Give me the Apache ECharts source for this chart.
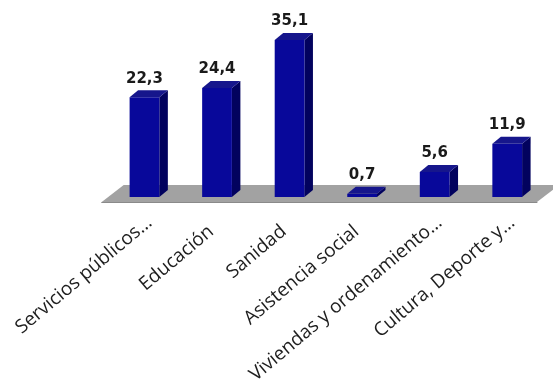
<!DOCTYPE html>
<html>
<head>
<meta charset="utf-8">
<script src="https://cdn.jsdelivr.net/npm/echarts@6/dist/echarts.min.js"></script>
<style>
html,body{margin:0;padding:0;background:#fff;}
#c{width:553px;height:392px;}
</style>
</head>
<body>
<div id="c"></div>
<script>
const categories = ['Servicios públicos…', 'Educación', 'Sanidad', 'Asistencia social', 'Viviendas y ordenamiento…', 'Cultura, Deporte y…'];
const values = [22.3, 24.4, 35.1, 0.7, 5.6, 11.9];
const valueLabels = ['22,3', '24,4', '35,1', '0,7', '5,6', '11,9'];

const chart = echarts.init(document.getElementById('c'), null, {renderer: 'canvas'});

const FLOOR_DX = 22, FLOOR_DY = -17;
const BAR_OX = 6.5, BAR_OY = -5;
const DEPTH_DX = 8.5, DEPTH_DY = -7;

const labelData = categories.map(function (c) {
  return c.endsWith('…') ? {value: c} : {value: c, textStyle: {padding: [0, 14, 0, 0]}};
});

const option = {
  backgroundColor: '#ffffff',
  animation: false,
  grid: [
    {left: 101.7, right: 16, top: 23.2, bottom: 190},
    {left: 113.2, right: 4.5, top: 23.2, bottom: 190}
  ],
  xAxis: [
    {
      type: 'category', gridIndex: 0, data: categories,
      axisLine: {lineStyle: {color: '#8a8a8a', width: 1}},
      axisTick: {length: 4, lineStyle: {color: '#8a8a8a'}},
      axisLabel: {show: false}
    },
    {
      type: 'category', gridIndex: 1, data: labelData,
      axisLine: {show: false}, axisTick: {show: false},
      axisLabel: {rotate: 40, interval: 0, margin: 18, fontFamily: 'Open Sans', fontSize: 19, color: '#1e1e1e'}
    }
  ],
  yAxis: [
    {type: 'value', gridIndex: 0, min: 0, max: 40, show: false},
    {type: 'value', gridIndex: 1, min: 0, max: 40, show: false}
  ],
  series: [
    {
      type: 'custom', xAxisIndex: 0, yAxisIndex: 0, z: 1,
      data: [[0, 0]],
      renderItem: function (params, api) {
        const w = api.size([1, 0])[0];
        const a = api.coord([0, 0]);
        const b = api.coord([categories.length - 1, 0]);
        const l = a[0] - w / 2, r = b[0] + w / 2, y = a[1];
        return {
          type: 'polygon',
          shape: {points: [[l, y], [r, y], [r + FLOOR_DX, y + FLOOR_DY], [l + FLOOR_DX, y + FLOOR_DY]]},
          style: {fill: '#a2a2a2'}
        };
      }
    },
    {
      type: 'custom', xAxisIndex: 0, yAxisIndex: 0, z: 3,
      data: values.map((v, i) => [i, v]),
      encode: {x: 0, y: 1},
      renderItem: function (params, api) {
        const i = api.value(0), v = api.value(1);
        const c0 = api.coord([i, 0]);
        const c1 = api.coord([i, v]);
        const w = api.size([1, 0])[0];
        const bw = w * 0.41;
        const x0 = c0[0] + BAR_OX - bw / 2, x1 = x0 + bw;
        const yb = c0[1] + BAR_OY, yt = c1[1] + BAR_OY;
        return {
          type: 'group',
          children: [
            {type: 'polygon', shape: {points: [[x1, yb], [x1 + DEPTH_DX, yb + DEPTH_DY], [x1 + DEPTH_DX, yt + DEPTH_DY], [x1, yt]]}, style: {fill: '#02025e'}},
            {type: 'rect', shape: {x: x0, y: yt, width: bw, height: yb - yt}, style: {fill: '#08089a'}},
            {type: 'polygon', shape: {points: [[x0, yt], [x1, yt], [x1 + DEPTH_DX, yt + DEPTH_DY], [x0 + DEPTH_DX, yt + DEPTH_DY]]}, style: {fill: '#16168c'}},
            {type: 'text', style: {
              text: valueLabels[i], x: x0 + bw / 2, y: yt + DEPTH_DY - 4,
              align: 'center', verticalAlign: 'bottom',
              font: 'bold 15px "DejaVu Sans"', fill: '#1a1a1a'
            }}
          ]
        };
      }
    }
  ]
};
chart.setOption(option);
</script>
</body>
</html>
